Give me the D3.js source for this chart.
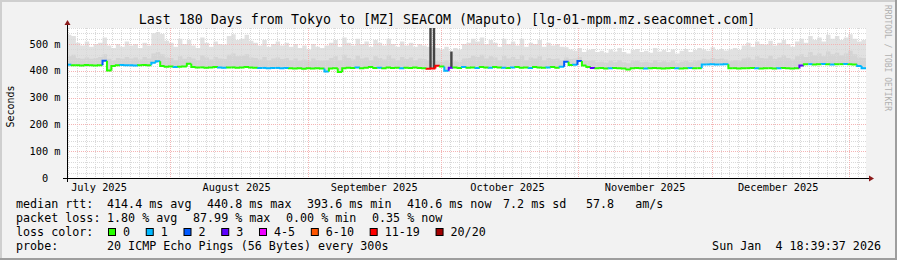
<!DOCTYPE html>
<html><head><meta charset="utf-8">
<script src="https://cdn.jsdelivr.net/npm/d3@7"></script>
<style>
html,body{margin:0;padding:0;background:#f2f2f2}
svg{display:block}
text{font-family:"DejaVu Sans Mono",monospace;white-space:pre;fill:#000}
</style>
</head><body><svg id="c" width="897" height="260"></svg>
<script>
// ---------------- data ----------------
const title = "Last 180 Days from Tokyo to [MZ] SEACOM (Maputo) [lg-01-mpm.mz.seacomnet.com]";
const endTime = "2026-01-04T18:39:37Z";
const spanDays = 180;
const yAxisTitle = "Seconds";
const watermark = "RRDTOOL / TOBI OETIKER";

// daily median RTT (ms)
const median = [
 423,421,421,420,422,421,420,421,438,401, 418,421,422,421,421,420,421,422,421,430,
 436,418,415,416,414,415,416,427,414,413, 413,412,413,414,413,412,413,413,412,413,
 414,413,412,411,411,410,411,411,410,411, 410,409,410,408,410,409,410,409,398,409,
 410,396,410,412,411,413,410,412,414,411, 412,410,413,411,412,410,412,411,413,411,
 410,408,409,419,416,400,412,413,411,414, 412,413,411,414,413,412,414,413,412,411,
 413,414,412,413,411,414,413,412,413,414, 412,415,434,422,423,437,420,414,411,410,
 411,409,410,411,410,409,405,410,411,410, 409,410,411,410,409,410,411,410,409,410,
 411,410,410,424,424,425,424,424,425,410, 410,409,410,410,411,410,409,410,410,409,
 410,411,410,409,410,420,425,425,424,425, 426,425,424,425,425,426,425,424,418,410
];
// lost pings out of 20, per day
const loss = [
 1,0,0,0,0,0,0,0,2,0, 0,0,1,1,1,1,0,0,0,1,
 1,0,0,0,1,0,0,0,0,0, 0,0,0,0,1,1,0,0,0,0,
 0,0,0,1,1,1,1,1,1,1, 0,0,0,0,0,0,0,0,1,0,
 0,0,0,0,0,1,0,0,0,0, 1,0,0,0,0,1,0,0,0,0,
 0,12,15,11,0,1,3,0,0,1, 0,0,1,0,0,1,0,0,1,0,
 1,0,0,0,1,0,0,0,1,0, 0,1,2,0,1,2,0,0,3,0,
 0,0,1,0,0,0,0,0,0,0, 1,0,0,0,0,0,0,1,0,0,
 1,0,0,1,1,1,1,1,1,0, 0,0,0,0,0,1,0,0,0,0,
 1,0,0,0,0,3,0,1,0,0, 1,0,1,0,0,1,0,0,1,1
];
// highest ping of the smoke (ms)
const smokeMax = [
 535,530,505,495,510,490,500,505,525,495, 485,500,490,510,495,500,485,505,495,540,
 545,538,512,505,490,520,500,515,495,485, 525,505,490,510,500,498,530,537,515,520,
 535,512,505,495,515,490,500,510,495,505, 490,500,485,495,480,500,490,485,495,505,
 515,490,525,505,495,520,500,510,490,515, 505,495,520,500,490,510,495,505,490,500,
 495,490,488,485,480,490,475,485,480,500, 505,520,510,525,500,515,505,490,520,500,
 510,495,520,490,505,500,515,490,505,495, 500,490,488,480,475,485,470,478,482,470,
 475,468,480,472,485,470,465,478,482,470, 475,468,485,472,478,470,480,465,475,482,
 470,478,485,480,475,488,478,482,476,480, 485,478,495,505,490,510,500,498,512,495,
 505,515,500,490,510,520,505,530,515,525, 510,535,520,530,515,525,537,520,510,515
];
// upper edge of the denser inner smoke (ms)
const smokeMid = [
 455,460,448,445,450,445,448,452,462,445, 440,448,445,452,446,450,442,452,446,465,
 470,462,450,448,440,455,445,452,446,440, 458,450,442,452,446,444,460,465,455,456,
 462,450,448,442,452,440,446,450,444,448, 440,446,438,442,436,446,440,438,440,448,
 455,440,460,448,442,456,446,450,440,455, 448,442,458,446,440,452,444,450,440,446,
 444,440,440,436,434,440,430,436,434,446, 448,456,452,460,446,455,450,440,456,446,
 452,444,458,440,450,446,455,440,448,444, 446,440,450,444,446,452,440,438,440,432,
 434,430,438,432,440,432,428,436,438,432, 434,430,440,432,436,432,438,428,434,438,
 432,436,440,445,442,448,444,446,442,436, 440,436,446,450,442,455,448,446,456,444,
 450,458,448,442,455,462,452,470,458,465, 455,472,462,468,458,465,475,462,450,448
];
// narrow dark smoke spikes
const spikeTimes = ["2025-09-28T16:00:00Z","2025-09-29T11:00:00Z","2025-10-03T09:00:00Z"];
const spikeTops  = [600, 600, 472];
const spikeBases = [409, 410, 412];

const yTicks = [0,100,200,300,400,500];
const yTickLabels = ["0  ","100 m","200 m","300 m","400 m","500 m"];
const yMax = 560;
const monthStarts = ["2025-08-01","2025-09-01","2025-10-01","2025-11-01","2025-12-01","2026-01-01"];
const monthLabelDates = ["2025-07-16","2025-08-16","2025-09-16","2025-10-16","2025-11-16","2025-12-16"];
const monthLabels = ["July 2025","August 2025","September 2025","October 2025","November 2025","December 2025"];

const lossBuckets = ["0","1","2","3","4-5","6-10","11-19","20/20"];
const lossColors = ["#26ff00","#00b8ff","#0059ff","#5e00ff","#ee00ff","#ff5500","#ff0000","#a10000"];

const rttStats = ["median rtt:","414.4 ms avg","440.8 ms max","393.6 ms min","410.6 ms now","7.2 ms sd","57.8   am/s"];
const lossStats = ["packet loss:","1.80 % avg","87.99 % max","0.00 % min","0.35 % now"];
const lossColorLabel = "loss color:";
const probeLabel = "probe:";
const probeText = "20 ICMP Echo Pings (56 Bytes) every 300s";
const stamp = "Sun Jan  4 18:39:37 2026";

// ---------------- layout ----------------
const W = 897, H = 260;
const P = {l:67, r:866, t:28, b:178};
const svg = d3.select("#c");
const DAY = 86400000;
const tEnd = new Date(endTime);
const tStart = new Date(+tEnd - spanDays*DAY);
const x = d3.scaleUtc().domain([tStart, tEnd]).range([P.l, P.r]);
const y = d3.scaleLinear().domain([0, yMax]).range([P.b, P.t]);
const dayT = i => new Date(+tStart + i*DAY);

// background & frame shading
svg.append("rect").attr("width",W).attr("height",H).attr("fill","#f2f2f2");
svg.append("rect").attr("x",0).attr("y",0).attr("width",W).attr("height",2).attr("fill","#cfcfcf");
svg.append("rect").attr("x",0).attr("y",0).attr("width",2).attr("height",H).attr("fill","#cfcfcf");
svg.append("rect").attr("x",0).attr("y",H-2).attr("width",W).attr("height",2).attr("fill","#9e9e9e");
svg.append("rect").attr("x",W-2).attr("y",0).attr("width",2).attr("height",H).attr("fill","#9e9e9e");

// canvas
svg.append("rect").attr("x",P.l).attr("y",P.t).attr("width",P.r-P.l).attr("height",P.b-P.t).attr("fill","#fff");
svg.append("clipPath").attr("id","pc").append("rect")
  .attr("x",P.l).attr("y",P.t).attr("width",P.r-P.l).attr("height",P.b-P.t);
const g = svg.append("g").attr("clip-path","url(#pc)");

// smoke
const days = d3.range(spanDays+1);
const val = (arr,i)=>arr[Math.min(i,spanDays-1)];
const areaOuter = d3.area().curve(d3.curveStepAfter)
  .x(i=>x(dayT(i))).y0(i=>y(val(median,i))).y1(i=>y(val(smokeMax,i)));
const areaMid = d3.area().curve(d3.curveStepAfter)
  .x(i=>x(dayT(i))).y0(i=>y(val(median,i))).y1(i=>y(val(smokeMid,i)));
g.append("path").attr("d",areaOuter(days)).attr("fill","#e1e1e1");
g.append("path").attr("d",areaMid(days)).attr("fill","#d4d4d4");

// grid
const gridG = svg.append("g");
const minorC = "#d9d9d9", majorC = "#f4b4b4";
for (let v=20; v<=yMax; v+=20){
  if (v%100===0) continue;
  gridG.append("line").attr("x1",P.l).attr("x2",P.r).attr("y1",Math.round(y(v))+0.5).attr("y2",Math.round(y(v))+0.5)
    .attr("stroke",minorC).attr("stroke-dasharray","1,1");
}
d3.utcDay.every(2).range(tStart, tEnd).forEach(t=>{
  const xx = Math.round(x(t))+0.5;
  gridG.append("line").attr("x1",xx).attr("x2",xx).attr("y1",P.t).attr("y2",P.b)
    .attr("stroke",minorC).attr("stroke-dasharray","1,1");
});
yTicks.filter(v=>v>0).forEach(v=>{
  const yy = Math.round(y(v))+0.5;
  gridG.append("line").attr("x1",P.l).attr("x2",P.r).attr("y1",yy).attr("y2",yy)
    .attr("stroke",majorC).attr("stroke-dasharray","1,1");
});
monthStarts.forEach(d=>{
  const xx = Math.round(x(new Date(d+"T00:00:00Z")))+0.5;
  gridG.append("line").attr("x1",xx).attr("x2",xx).attr("y1",P.t).attr("y2",P.b)
    .attr("stroke",majorC).attr("stroke-dasharray","1,1");
});

// dark spikes (above grid)
const sg = svg.append("g").attr("clip-path","url(#pc)");
spikeTimes.forEach((t,k)=>{
  const xx = x(new Date(t));
  sg.append("rect").attr("x",xx-1.2).attr("width",2.4)
    .attr("y",y(spikeTops[k])).attr("height",y(spikeBases[k])-y(spikeTops[k]))
    .attr("fill","#454545");
});

// median line coloured by loss
function lossIdx(n){
  if (n<=3) return n;
  if (n<=5) return 4;
  if (n<=10) return 5;
  if (n<=19) return 6;
  return 7;
}
const lineG = svg.append("g").attr("clip-path","url(#pc)");
median.forEach((m,i)=>{
  const x0 = x(dayT(i)), x1 = x(dayT(i+1));
  const yy = y(m);
  const yp = i>0 ? y(median[i-1]) : yy;
  lineG.append("path").attr("d",`M${x0},${yp}V${yy}H${x1}`)
    .attr("fill","none").attr("stroke",lossColors[lossIdx(loss[i])]).attr("stroke-width",2);
});

// axes
svg.append("line").attr("x1",P.l-4).attr("x2",P.r+4).attr("y1",P.b+0.5).attr("y2",P.b+0.5).attr("stroke","#000");
svg.append("line").attr("x1",P.l+0.5).attr("x2",P.l+0.5).attr("y1",P.b+4).attr("y2",P.t-4).attr("stroke","#000");
svg.append("path").attr("d",`M${P.r+3},${P.b-2.5}L${P.r+8},${P.b+0.5}L${P.r+3},${P.b+3.5}Z`).attr("fill","#8b1a1a");
svg.append("path").attr("d",`M${P.l-2.5},${P.t-3}L${P.l+0.5},${P.t-8}L${P.l+3.5},${P.t-3}Z`).attr("fill","#8b1a1a");

// y labels
yTicks.forEach((v,k)=>{
  svg.append("text").attr("x",60.5).attr("y",y(v)+3.6).attr("text-anchor","end")
    .style("font-size","10.3px").text(yTickLabels[k]);
});
// x labels
monthLabelDates.forEach((d,k)=>{
  svg.append("text").attr("x",x(new Date(d+"T00:00:00Z"))).attr("y",190.5).attr("text-anchor","middle")
    .style("font-size","10.3px").text(monthLabels[k]);
});
// y title
svg.append("text").attr("transform","translate(14,106.5) rotate(-90)").attr("text-anchor","middle")
  .style("font-size","10px").text(yAxisTitle);
// title
svg.append("text").attr("x",447).attr("y",23.5).attr("text-anchor","middle")
  .style("font-size","13.3px").text(title);
// watermark
svg.append("text").attr("transform","translate(885,5) rotate(90)").attr("text-anchor","start")
  .style("font-size","8px").style("fill","#b0b0b0").text(watermark);

// legend
const LF = "11.7px";
const rttX = [16,107,207,307,407,503,586];
rttStats.forEach((s,k)=> svg.append("text").attr("x",rttX[k]).attr("y",208).style("font-size",LF).text(s));
const lossX = [16,107,193,286,372];
lossStats.forEach((s,k)=> svg.append("text").attr("x",lossX[k]).attr("y",222).style("font-size",LF).text(s));
svg.append("text").attr("x",16).attr("y",236).style("font-size",LF).text(lossColorLabel);
let lx = 108;
lossBuckets.forEach((b,k)=>{
  svg.append("rect").attr("x",lx+0.5).attr("y",228.5).attr("width",7).attr("height",7)
    .attr("fill",lossColors[k]).attr("stroke","#000").attr("stroke-width",1);
  const t = svg.append("text").attr("x",lx+15).attr("y",236).style("font-size",LF).text(b);
  lx = lx + 15 + t.node().getComputedTextLength() + 15.7;
});
svg.append("text").attr("x",16).attr("y",250).style("font-size",LF).text(probeLabel);
svg.append("text").attr("x",107).attr("y",250).style("font-size",LF).text(probeText);
svg.append("text").attr("x",881).attr("y",250).attr("text-anchor","end").style("font-size",LF).text(stamp);
</script>
</body></html>
